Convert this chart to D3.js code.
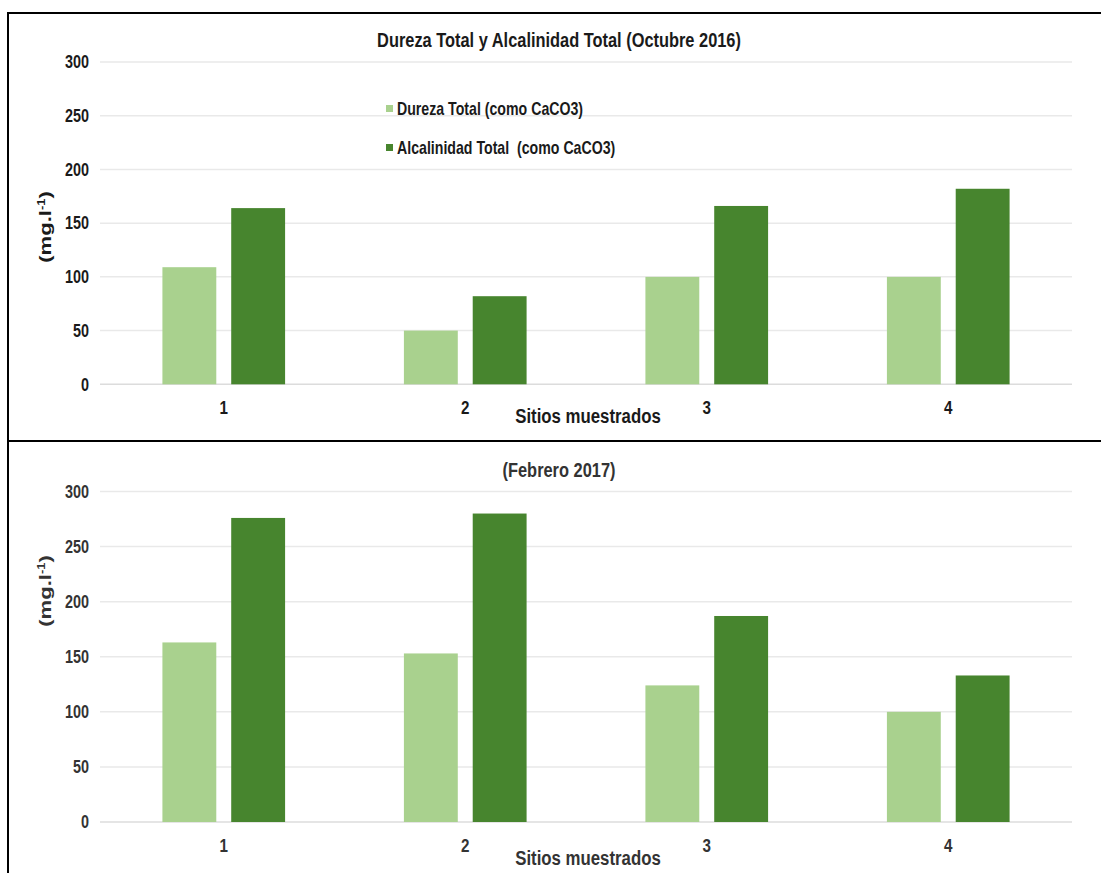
<!DOCTYPE html>
<html>
<head>
<meta charset="utf-8">
<script src="https://cdn.jsdelivr.net/npm/d3@7/dist/d3.min.js"></script>
<style>
  html, body { margin: 0; padding: 0; background: #fff; }
  svg { display: block; }
  .narrow { font-family: 'Liberation Sans', Arial, sans-serif; font-weight: bold; }
</style>
</head>
<body>
<svg id="chart" width="1101" height="873"></svg>
<script>
// Sampling sites and series
const sites = ["1", "2", "3", "4"];
const seriesNames = ["Dureza Total (como CaCO3)", "Alcalinidad Total  (como CaCO3)"];
const seriesColors = ["#a9d18e", "#47852e"];

// Values in mg/l, October 2016
const durezaOct2016 = [109, 50, 100, 100];
const alcalinidadOct2016 = [164, 82, 166, 182];

// Values in mg/l, February 2017
const durezaFeb2017 = [163, 153, 124, 100];
const alcalinidadFeb2017 = [276, 280, 187, 133];

// Value axis ticks
const yTicks = [0, 50, 100, 150, 200, 250, 300];

// Horizontal compression that gives the condensed lettering
const SX = 0.8;

const svg = d3.select("#chart");

// Condensed bold text placed at (x, y)
function label(parent, x, y, txt, size, color, anchor) {
  return parent.append("text").attr("class", "narrow")
    .attr("transform", `translate(${x},${y}) scale(${SX},1)`)
    .attr("text-anchor", anchor || "middle")
    .attr("font-size", size).attr("fill", color)
    .style("white-space", "pre").text(txt);
}

// Frame lines around the two panels
const frame = svg.append("g").attr("stroke", "#000").attr("stroke-width", 2);
frame.append("line").attr("x1", 8).attr("x2", 1101).attr("y1", 13).attr("y2", 13);
frame.append("line").attr("x1", 8).attr("x2", 8).attr("y1", 12).attr("y2", 873);
frame.append("line").attr("x1", 8).attr("x2", 1101).attr("y1", 441).attr("y2", 441);

const panels = [
  { title: "Dureza Total y Alcalinidad Total (Octubre 2016)", values: [durezaOct2016, alcalinidadOct2016],
    top: 62, bottom: 384.3, titleY: 47, legend: true, tickTop: 401, xLabelY: 423, yTitleMid: 227, textColor: "#1a1a1a" },
  { title: "(Febrero 2017)", values: [durezaFeb2017, alcalinidadFeb2017],
    top: 491.5, bottom: 822, titleY: 477, legend: false, tickTop: 839, xLabelY: 865, yTitleMid: 591, textColor: "#333" }
];

const plotLeft = 100, plotRight = 1072;

panels.forEach(p => {
  const g = svg.append("g");

  const y = d3.scaleLinear().domain([0, 300]).range([p.bottom, p.top]);
  const x0 = d3.scaleBand().domain(sites).range([103, 1069]).paddingInner(0.492).paddingOuter(0.246);
  const x1 = d3.scaleBand().domain(d3.range(seriesNames.length)).range([0, x0.bandwidth()]).paddingInner(0.217);

  // Horizontal gridlines
  g.append("g").selectAll("line").data(yTicks).join("line")
    .attr("x1", plotLeft).attr("x2", plotRight)
    .attr("y1", d => y(d)).attr("y2", d => y(d))
    .attr("stroke", d => d === 0 ? "#dcdcdc" : "#e9e9e9").attr("stroke-width", 1.5);

  // Value axis labels
  const yAxis = d3.axisLeft(y).tickValues(yTicks).tickSize(0).tickPadding(0);
  const ya = g.append("g").attr("transform", `translate(89,0)`).call(yAxis);
  ya.select(".domain").remove();
  ya.selectAll("text").attr("class", "narrow").attr("font-size", 18).attr("fill", p.textColor)
    .attr("transform", `scale(${SX},1)`);

  // Bars
  const rows = sites.map((s, i) => ({ site: s, vals: p.values.map(v => v[i]) }));
  g.append("g").selectAll("g").data(rows).join("g")
    .attr("transform", d => `translate(${x0(d.site)},0)`)
    .selectAll("rect").data(d => d.vals.map((v, k) => ({ k, v }))).join("rect")
    .attr("x", d => x1(d.k)).attr("width", x1.bandwidth())
    .attr("y", d => y(d.v)).attr("height", d => y(0) - y(d.v))
    .attr("fill", d => seriesColors[d.k]);

  // Category axis labels
  const xAxis = d3.axisBottom(x0).tickSize(0).tickPadding(0);
  const xa = g.append("g").attr("transform", `translate(0,${p.tickTop})`).call(xAxis);
  xa.select(".domain").remove();
  xa.selectAll("text").attr("class", "narrow").attr("font-size", 19).attr("fill", p.textColor)
    .attr("dy", "0.71em").attr("transform", `scale(${SX},1)`);

  label(g, 588, p.xLabelY, "Sitios muestrados", 21, p.textColor);

  // Title
  label(g, 559, p.titleY, p.title, 20.5, p.textColor);

  // Value axis title
  const yt = g.append("text")
    .attr("transform", `translate(51,${p.yTitleMid}) rotate(-90) scale(1.3,1)`)
    .attr("text-anchor", "middle")
    .attr("font-family", "'Liberation Sans', Arial, sans-serif").attr("font-weight", "bold")
    .attr("font-size", 17).attr("fill", p.textColor);
  yt.append("tspan").text("(mg.l");
  yt.append("tspan").attr("dy", -6).attr("font-size", 10).text("-1");
  yt.append("tspan").attr("dy", 6).text(")");

  // Legend
  if (p.legend) {
    const lg = g.append("g").attr("transform", "translate(386,0)");
    const items = lg.selectAll("g").data(seriesNames).join("g")
      .attr("transform", (d, i) => `translate(0,${109 + i * 39})`);
    items.append("rect").attr("x", 0).attr("y", -4).attr("width", 7).attr("height", 7)
      .attr("fill", (d, i) => seriesColors[i]);
    items.each(function(d) {
      label(d3.select(this), 11, 5.5, d, 17.7, p.textColor, "start");
    });
  }
});
</script>
</body>
</html>
